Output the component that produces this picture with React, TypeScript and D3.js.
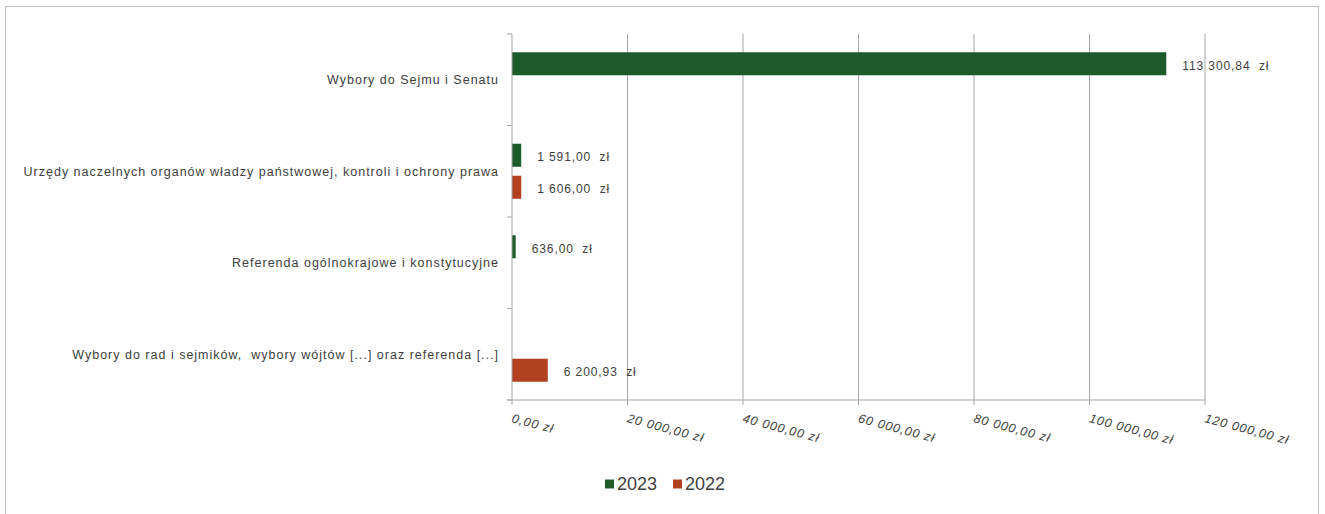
import React from "react";
import * as d3 from "d3";

const categories = [
  "Wybory do Sejmu i Senatu",
  "Urzędy naczelnych organów władzy państwowej, kontroli i ochrony prawa",
  "Referenda ogólnokrajowe i konstytucyjne",
  "Wybory do rad i sejmików,  wybory wójtów [...] oraz referenda [...]",
];
const series = ["2023", "2022"];
const values2023: (number | null)[] = [113300.84, 1591.0, 636.0, null];
const values2022: (number | null)[] = [null, 1606.0, null, 6200.93];
const xTicks = [0, 20000, 40000, 60000, 80000, 100000, 120000];
const colors = ["#1e5b2b", "#b2421f"];

const fmt = (v: number) => {
  const [i, d] = v.toFixed(2).split(".");
  const ii = i.replace(/\B(?=(\d{3})+(?!\d))/g, " ");
  return `${ii},${d}`;
};

export default function App() {
  const W = 1325, H = 514;
  const left = 512, right = 1205, top = 34, bottom = 400;
  const x = d3.scaleLinear().domain([0, 120000]).range([left, right]);
  const y = d3.scaleBand().domain(categories).range([top, bottom]).padding(0);
  const sub = d3
    .scaleBand()
    .domain(series)
    .range([0, y.bandwidth()])
    .paddingInner(0.28)
    .paddingOuter(0.57);
  const data = [values2023, values2022];
  const font = "'Liberation Sans', Arial, sans-serif";
  const textColor = "#404040";
  const gridColor = "#a6a6a6";

  return (
    <svg
      width={W}
      height={H}
      style={{ position: "absolute", left: 0, top: 0, background: "#fff" }}
      fontFamily={font}
    >
      <rect x={5.5} y={6.5} width={1313} height={520} fill="#fff" stroke="#bfbfbf" />
      {/* grid lines */}
      {xTicks.slice(1).map((t) => (
        <line key={t} x1={x(t)} x2={x(t)} y1={top} y2={bottom} stroke={gridColor} strokeWidth={1} />
      ))}
      {/* bars */}
      {categories.map((c, ci) =>
        series.map((s, si) => {
          const v = data[si][ci];
          if (v == null) return null;
          const by = (y(c) as number) + (sub(s) as number);
          return (
            <g key={c + s}>
              <rect
                x={x(0)}
                y={by}
                width={Math.max(x(v) - x(0), 1)}
                height={sub.bandwidth()}
                fill={colors[si]}
              />
              <text
                x={x(v) + 16}
                y={by + sub.bandwidth() / 2 + 2}
                dy="0.35em"
                fontSize={12}
                letterSpacing={0.9}
                fill={textColor}
                style={{ whiteSpace: "pre" }}
              >
                {fmt(v) + "  zł"}
              </text>
            </g>
          );
        })
      )}
      {/* y axis */}
      <line x1={left} x2={left} y1={top} y2={bottom} stroke={gridColor} />
      {[...categories.map((c) => y(c) as number), bottom].map((ty, i) => (
        <line key={i} x1={left - 5} x2={left} y1={ty} y2={ty} stroke={gridColor} />
      ))}
      {categories.map((c) => (
        <text
          key={c}
          x={499}
          y={(y(c) as number) + y.bandwidth() / 2}
          dy="0.35em"
          textAnchor="end"
          fontSize={12.5}
          letterSpacing={1}
          fill={textColor}
          style={{ whiteSpace: "pre" }}
        >
          {c}
        </text>
      ))}
      {/* x axis */}
      <line x1={left - 5} x2={right} y1={bottom} y2={bottom} stroke={gridColor} />
      {xTicks.map((t) => (
        <g key={t}>
          <line x1={x(t)} x2={x(t)} y1={bottom} y2={bottom + 5} stroke={gridColor} />
          <text
            transform={`translate(${x(t) - 1},${bottom + 22}) rotate(15)`}
            fontSize={12.5}
            fontStyle="italic"
            letterSpacing={0.9}
            fill={textColor}
          >
            {fmt(t) + " zł"}
          </text>
        </g>
      ))}
      {/* legend */}
      {series.map((s, i) => (
        <g key={s} transform={`translate(${605 + i * 68},484)`}>
          <rect x={0} y={-4.5} width={9} height={9} fill={colors[i]} />
          <text x={12} y={0} dy="0.35em" fontSize={18} fill={textColor}>
            {s}
          </text>
        </g>
      ))}
    </svg>
  );
}
